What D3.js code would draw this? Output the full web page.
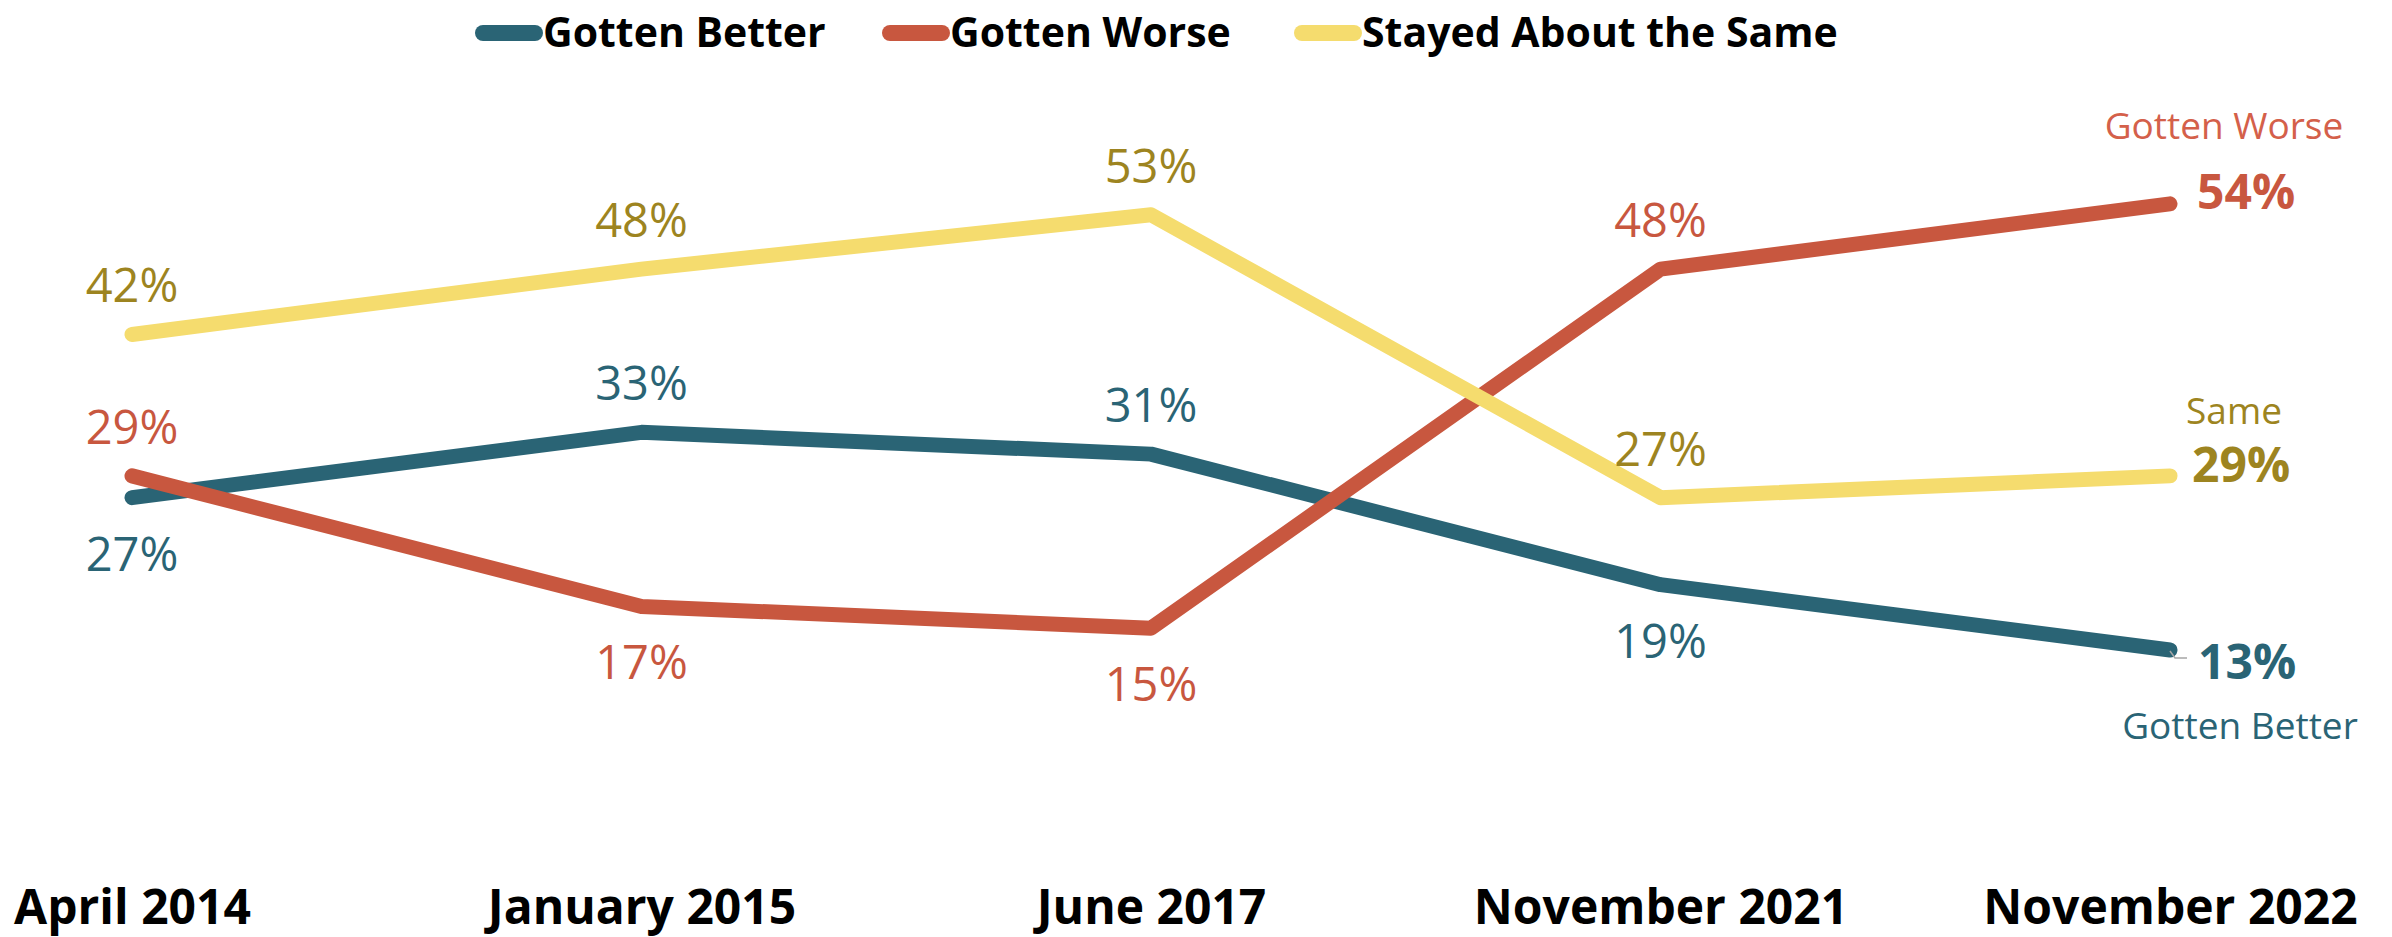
<!DOCTYPE html>
<html>
<head>
<meta charset="utf-8">
<script src="https://cdn.jsdelivr.net/npm/d3@7"></script>
<style>
  html, body { margin: 0; padding: 0; background: #ffffff; }
  svg { display: block; }
</style>
</head>
<body>
<svg id="chart" width="2392" height="937"></svg>
<script>
// ---- data ----
const categories = ["April 2014", "January 2015", "June 2017", "November 2021", "November 2022"];
const betterValues = [27, 33, 31, 19, 13];
const worseValues  = [29, 17, 15, 48, 54];
const sameValues   = [42, 48, 53, 27, 29];
const seriesNames  = ["Gotten Better", "Gotten Worse", "Stayed About the Same"];
const endLabels    = ["Gotten Better", "Gotten Worse", "Same"];
const betterPlace  = ["below", "above", "above", "below"];
const worsePlace   = ["above", "below", "below", "above"];
const samePlace    = ["above", "above", "above", "above"];

// ---- styling ----
const lineColors  = ["#2A6475", "#C8573F", "#F5DC6E"];
const labelColors = ["#2A6475", "#C8573F", "#9D8420"];
const endNameColors = ["#2A6475", "#D4604A", "#9D8420"];
const FONT = "'Open Sans', 'Noto Sans', sans-serif";

const series = [
  { name: seriesNames[0], end: endLabels[0], values: betterValues, place: betterPlace, i: 0 },
  { name: seriesNames[1], end: endLabels[1], values: worseValues,  place: worsePlace,  i: 1 },
  { name: seriesNames[2], end: endLabels[2], values: sameValues,   place: samePlace,   i: 2 }
];

const svg = d3.select("#chart");

const x = d3.scalePoint().domain(categories).range([132, 2170]);
const y = d3.scaleLinear().domain([0, 60]).range([791.4, 138.6]);

// x axis labels
const xAxis = d3.axisBottom(x).tickSize(0).tickPadding(0);
const gx = svg.append("g").attr("transform", "translate(0,890)").call(xAxis);
gx.select(".domain").remove();
gx.selectAll("text")
  .attr("dy", 0).attr("y", 34)
  .style("font-family", FONT).style("font-weight", 700)
  .style("font-size", "48px").attr("fill", "#000");

// lines
const line = d3.line()
  .x((d, k) => x(categories[k]))
  .y(d => y(d));

svg.append("g").selectAll("path")
  .data(series)
  .join("path")
  .attr("d", s => line(s.values))
  .attr("fill", "none")
  .attr("stroke", s => lineColors[s.i])
  .attr("stroke-width", 15)
  .attr("stroke-linecap", "round")
  .attr("stroke-linejoin", "round");

// data labels for first four points
series.forEach(s => {
  const g = svg.append("g");
  s.values.slice(0, 4).forEach((v, k) => {
    g.append("text")
      .attr("x", x(categories[k]))
      .attr("y", y(v) + (s.place[k] === "above" ? -32 : 73))
      .attr("text-anchor", "middle")
      .style("font-family", FONT).style("font-size", "47px")
      .attr("fill", labelColors[s.i])
      .text(v + "%");
  });
});

// end labels (last point)
const last = categories.length - 1;
const lx = x(categories[last]);
const endCfg = [
  { vdx: 28, vdy: 29, ncx: 70, ndy: 89 },   // better
  { vdx: 27, vdy: 5,  ncx: 54, ndy: -65 },  // worse
  { vdx: 22, vdy: 6,  ncx: 64, ndy: -52 }   // same
];
series.forEach(s => {
  const v = s.values[last];
  const c = endCfg[s.i];
  svg.append("text")
    .attr("x", lx + c.vdx).attr("y", y(v) + c.vdy)
    .style("font-family", FONT).style("font-weight", 700).style("font-size", "48px")
    .attr("fill", labelColors[s.i])
    .text(v + "%");
  svg.append("text")
    .attr("x", lx + c.ncx).attr("y", y(v) + c.ndy)
    .attr("text-anchor", "middle")
    .style("font-family", FONT).style("font-size", "37px")
    .attr("fill", endNameColors[s.i])
    .text(s.end);
});
// tiny leader line for the "13%" label
svg.append("path")
  .attr("d", `M${lx},${y(betterValues[last]) + 1} L${lx + 5},${y(betterValues[last]) + 8} L${lx + 17},${y(betterValues[last]) + 8}`)
  .attr("fill", "none").attr("stroke", "#A6A6A6").attr("stroke-width", 1.5);

// legend
const legendX = [475, 882, 1294];
const lg = svg.append("g");
series.forEach(s => {
  const x0 = legendX[s.i];
  lg.append("line")
    .attr("x1", x0 + 8).attr("x2", x0 + 60)
    .attr("y1", 33).attr("y2", 33)
    .attr("stroke", lineColors[s.i]).attr("stroke-width", 16)
    .attr("stroke-linecap", "round");
  lg.append("text")
    .attr("x", x0 + 68).attr("y", 47)
    .style("font-family", FONT).style("font-weight", 700).style("font-size", "41px")
    .attr("fill", "#000")
    .text(s.name);
});
</script>
</body>
</html>
